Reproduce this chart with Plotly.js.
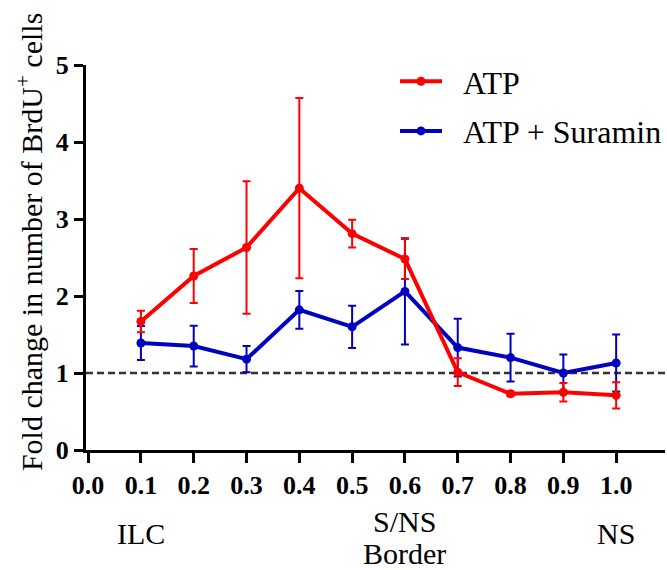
<!DOCTYPE html>
<html>
<head>
<meta charset="utf-8">
<script src="https://cdn.plot.ly/plotly-3.0.1.min.js"></script>
<style>html,body{margin:0;padding:0;background:#fff;} #chart{width:667px;height:570px;}</style>
</head>
<body>
<div id="chart"></div>
<script>
// Data
const positions = [0.1, 0.2, 0.3, 0.4, 0.5, 0.6, 0.7, 0.8, 0.9, 1.0];
const atpMean = [1.67, 2.26, 2.63, 3.40, 2.81, 2.48, 1.01, 0.73, 0.75, 0.71];
const atpErr  = [0.14, 0.35, 0.86, 1.17, 0.18, 0.26, 0.18, 0.03, 0.12, 0.17];
const suraminMean = [1.39, 1.35, 1.18, 1.82, 1.60, 2.06, 1.33, 1.20, 1.00, 1.13];
const suraminErr  = [0.22, 0.265, 0.17, 0.245, 0.275, 0.69, 0.375, 0.31, 0.24, 0.37];
const seriesNames = ['ATP', 'ATP + Suramin'];
const regionLabels = ['ILC', 'S/NS', 'Border', 'NS'];
const regionPositions = [0.1, 0.6, 0.6, 1.0];
const baseline = 1;
const yTitle = 'Fold change in number of BrdU<sup>+</sup> cells';

const FONT = 'Liberation Serif, Times New Roman, serif';
const RED = '#ff0000';
const BLUE = '#0000c0';
const NB = '\u00a0\u00a0';

const traces = [
  {
    x: positions, y: suraminMean, name: NB + seriesNames[1], type: 'scatter', mode: 'lines+markers',
    line: {color: BLUE, width: 4}, marker: {color: BLUE, size: 9},
    error_y: {type: 'data', array: suraminErr, visible: true, color: BLUE, thickness: 2, width: 4},
    legendrank: 2, legendgroup: 'b'
  },
  {
    x: positions, y: atpMean, name: NB + seriesNames[0], type: 'scatter', mode: 'lines+markers',
    line: {color: RED, width: 4}, marker: {color: RED, size: 9},
    error_y: {type: 'data', array: atpErr, visible: true, color: RED, thickness: 2, width: 4},
    legendrank: 1, legendgroup: 'a'
  }
];

const annY = [-0.2156, -0.187, -0.268, -0.2156];
const annotations = regionLabels.map((t, i) => ({
  x: regionPositions[i], y: annY[i], xref: 'x', yref: 'paper',
  text: t, showarrow: false, xanchor: 'center', yanchor: 'middle',
  font: {family: FONT, size: 30, color: '#000'}
}));
annotations.push({
  x: 0, y: 0.54, xref: 'paper', yref: 'paper', xshift: -56,
  text: yTitle, textangle: -90, showarrow: false, xanchor: 'center', yanchor: 'middle',
  font: {family: FONT, size: 30, color: '#000'}
});

const layout = {
  width: 667, height: 570,
  margin: {l: 86, r: 0, t: 65, b: 120},
  paper_bgcolor: '#fff', plot_bgcolor: '#fff',
  font: {family: FONT, color: '#000'},
  showlegend: true,
  legend: {
    x: 0.534, y: 1.0286, xanchor: 'left', yanchor: 'top',
    font: {family: FONT, size: 32, color: '#000'},
    itemwidth: 42, tracegroupgap: 5, bgcolor: 'rgba(0,0,0,0)'
  },
  xaxis: {
    range: [-0.004, 1.0925], showgrid: false, zeroline: false,
    showline: true, linecolor: '#000', linewidth: 3,
    ticks: 'outside', ticklen: 10, tickwidth: 3, tickcolor: '#000',
    tick0: 0, dtick: 0.1, tickformat: '.1f',
    tickfont: {family: FONT, size: 26, color: '#000', weight: 'bold'},
    fixedrange: true
  },
  yaxis: {
    range: [0, 5], showgrid: false, zeroline: false,
    showline: true, linecolor: '#000', linewidth: 3,
    ticks: 'outside', ticklen: 9, tickwidth: 3, tickcolor: '#000',
    tick0: 0, dtick: 1,
    tickfont: {family: FONT, size: 26, color: '#000', weight: 'bold'},
    fixedrange: true
  },
  shapes: [{
    type: 'line', xref: 'paper', yref: 'y', x0: 0, x1: 1, y0: baseline, y1: baseline,
    line: {color: '#333', width: 2.5, dash: '7px,4px'}, layer: 'below'
  }],
  annotations: annotations
};

Plotly.newPlot('chart', traces, layout, {displayModeBar: false, staticPlot: true});
</script>
</body>
</html>
